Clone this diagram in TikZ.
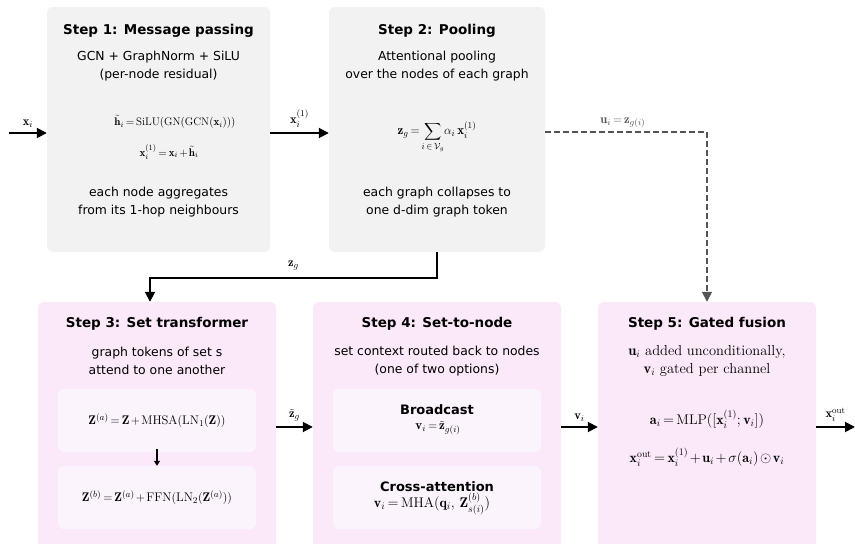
\documentclass[tikz,border=0pt]{standalone}
\usepackage{fontspec}
\usepackage{amsmath}
\newfontfamily\dv{DejaVu Sans}
\usetikzlibrary{arrows.meta}
\definecolor{graybg}{HTML}{F2F2F2}
\definecolor{pinkbg}{HTML}{FBE9F9}
\definecolor{pinkin}{HTML}{FCF4FC}
\definecolor{dashc}{HTML}{555555}
\thickmuskip=3mu plus 2mu
\medmuskip=2mu plus 1mu
\tikzset{
 stepgray/.style={fill=graybg, draw=none, rounded corners=6pt, inner sep=0pt},
 steppink/.style={fill=pinkbg, draw=none, rounded corners=6pt, inner sep=0pt},
 innerbox/.style={fill=pinkin, draw=none, rounded corners=6pt, inner sep=0pt, minimum height=63pt},
 title/.style={font=\dv\bfseries\fontsize{13.5}{16}\selectfont, inner sep=0pt},
 subtitle/.style={font=\dv\bfseries\fontsize{13}{16}\selectfont, inner sep=0pt},
 body/.style={font=\dv\fontsize{12.4}{18}\selectfont, align=center, inner sep=0pt},
 serifbody/.style={font=\fontsize{14.5}{18}\selectfont, align=center, inner sep=0pt},
 mth/.style={font=\fontsize{#1}{14}\selectfont, inner sep=0pt},
 mth/.default=12,
 flow/.style={line width=1.8pt, -{Triangle[length=10pt,width=10pt]}},
 smallflow/.style={line width=1.3pt, -{Triangle[length=5pt,width=6pt]}},
 dflow/.style={line width=1.6pt, dashc, dash pattern=on 6pt off 3pt, -{Triangle[length=10pt,width=10pt]}},
 lab/.style={font=\fontsize{12.5}{14}\selectfont, inner sep=0pt},
}
\begin{document}
\begin{tikzpicture}[x=1pt,y=-1pt]
\useasboundingbox (0,0) rectangle (855,544);
\clip (0,0) rectangle (855,544);
% boxes
\node[stepgray, minimum width=223pt, minimum height=245pt] (s1) at (158.5,129.5) {};
\node[stepgray, minimum width=216pt, minimum height=245pt] (s2) at (437,129.5) {};
\node[steppink, minimum width=238pt, minimum height=260pt] (s3) at (157,432) {};
\node[steppink, minimum width=248pt, minimum height=260pt] (s4) at (437,432) {};
\node[steppink, minimum width=218pt, minimum height=260pt] (s5) at (707,432) {};
\node[innerbox, minimum width=198pt] (i31) at (157,420.5) {};
\node[innerbox, minimum width=198pt] (i32) at (157,497.5) {};
\node[innerbox, minimum width=208pt] (i41) at (437,420.5) {};
\node[innerbox, minimum width=208pt] (i42) at (437,497.5) {};
% step 1
\node[title] (t1) at (158.5,31) {Step 1: Message passing};
\node[body] (b1a) at (158.5,66) {GCN + GraphNorm + SiLU\\(per-node residual)};
\node[mth=11] (m1a) at (175,122) {$\tilde{\mathbf{h}}_i = \mathrm{SiLU}(\mathrm{GN}(\mathrm{GCN}(\mathbf{x}_i)))$};
\node[mth=11] (m1b) at (169,152) {$\mathbf{x}_i^{(1)} = \mathbf{x}_i + \tilde{\mathbf{h}}_i$};
\node[body] (b1b) at (158.5,202) {each node aggregates\\from its 1-hop neighbours};
% step 2
\node[title] (t2) at (437,31) {Step 2: Pooling};
\node[body] (b2a) at (437,66) {Attentional pooling\\over the nodes of each graph};
\node[mth=13] (m2) at (437,137) {$\mathbf{z}_g = \displaystyle\sum_{i\,\in\,\mathcal{V}_g}\!\alpha_i\;\mathbf{x}_i^{(1)}$};
\node[body] (b2b) at (437,202) {each graph collapses to\\one d-dim graph token};
% step 3
\node[title] (t3) at (157,324) {Step 3: Set transformer};
\node[body] (b3) at (157,361) {graph tokens of set s\\attend to one another};
\node[mth=12.5] at (i31) {$\mathbf{Z}^{(a)} = \mathbf{Z} + \mathrm{MHSA}(\mathrm{LN}_1(\mathbf{Z}))$};
\node[mth=12.5] at (i32) {$\mathbf{Z}^{(b)} = \mathbf{Z}^{(a)} + \mathrm{FFN}(\mathrm{LN}_2(\mathbf{Z}^{(a)}))$};
% step 4
\node[title] (t4) at (437,324) {Step 4: Set-to-node};
\node[body] (b4) at (437,361) {set context routed back to nodes\\(one of two options)};
\node[subtitle] (bc) at (437,410) {Broadcast};
\node[mth=13] (m4a) at (438,428) {$\mathbf{v}_i = \tilde{\mathbf{z}}_{g(i)}$};
\node[subtitle] (ca) at (437,487) {Cross-attention};
\node[mth=14] (m4b) at (432,504) {$\mathbf{v}_i = \mathrm{MHA}(\mathbf{q}_i,\; \mathbf{Z}^{(b)}_{s(i)})$};
% step 5
\node[title] (t5) at (707,324) {Step 5: Gated fusion};
\node[serifbody] (b5) at (707,361) {$\mathbf{u}_i$ added unconditionally,\\$\mathbf{v}_i$ gated per channel};
\node[mth=14] (m5a) at (707,419) {$\mathbf{a}_i = \mathrm{MLP}([\mathbf{x}_i^{(1)}; \mathbf{v}_i])$};
\node[mth=14] (m5b) at (707,457) {$\mathbf{x}_i^{\mathrm{out}} = \mathbf{x}_i^{(1)} + \mathbf{u}_i + \sigma(\mathbf{a}_i)\odot\mathbf{v}_i$};
% connectors
\coordinate (xin) at (9,133);
\coordinate (xout) at (855,427);
\coordinate (rowa) at (0,133);
\coordinate (rowb) at (0,427);
\coordinate (uy) at (0,132);
\coordinate (zgc) at (150,278);
\draw[flow] (xin) -- node[lab, above=5pt] {$\mathbf{x}_i$} (s1.west|-rowa);
\draw[flow] (s1.east|-rowa) -- node[lab, above=5pt] {$\mathbf{x}_i^{(1)}$} (s2.west|-rowa);
\draw[dflow] (s2.east|-uy) -| node[pos=0.24, lab, above=3pt] {$\mathbf{u}_i = \mathbf{z}_{g(i)}$} (s5.north);
\draw[flow] (s2.south) |- node[pos=0.75, lab, above=7pt] {$\mathbf{z}_g$} (zgc) -- (zgc|-s3.north);
\draw[smallflow] ([yshift=3pt]i31.south) -- (i32.north);
\draw[flow] (s3.east|-rowb) -- node[lab, above=5pt] {$\tilde{\mathbf{z}}_g$} (s4.west|-rowb);
\draw[flow] (s4.east|-rowb) -- node[lab, above=5pt] {$\mathbf{v}_i$} (s5.west|-rowb);
\draw[flow] (s5.east|-rowb) -- node[lab, above=5pt] {$\mathbf{x}_i^{\mathrm{out}}$} (xout);
\end{tikzpicture}
\end{document}
